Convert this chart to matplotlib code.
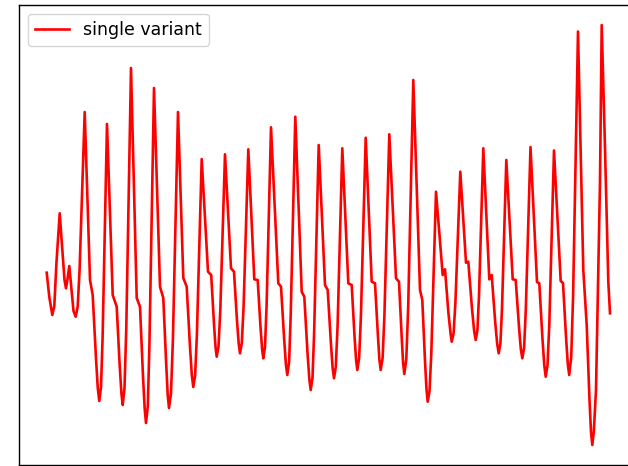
import matplotlib
matplotlib.use("Agg")
import matplotlib.pyplot as plt
import numpy as np

################################################################
##### data (arbitrary units)

# sample position along the trace
t = [
    46.7, 49.3, 52.3, 54.3, 56.5, 59.7, 62.3, 64.5, 66.0, 67.5, 69.3, 71.5, 73.5, 75.7, 77.7, 79.6,
    84.7, 90.0, 92.7, 96.0, 97.8, 99.3, 101.0, 102.6,
    107.0, 112.7, 116.7, 119.7, 121.4, 122.7, 124.5, 126.3,
    131.0, 136.7, 140.0, 143.0, 144.7, 146.0, 147.8, 149.4,
    154.0, 160.0, 163.3, 166.2, 167.7, 169.0, 171.0, 172.9,
    178.0, 183.3, 186.7, 190.0, 191.8, 193.3, 195.1, 196.9,
    201.7, 208.0, 211.2, 214.0, 215.5, 216.7, 218.5, 220.3,
    225.0, 231.0, 234.0, 237.0, 238.7, 240.0, 241.8, 243.6,
    248.3, 254.3, 257.7, 260.5, 262.1, 263.3, 265.0, 266.6,
    271.0, 278.3, 281.0, 284.2, 285.9, 287.3, 289.1, 290.7,
    295.3, 301.7, 304.3, 307.5, 309.3, 310.7, 312.5, 314.1,
    318.7, 325.0, 327.7, 330.9, 332.6, 334.0, 335.8, 337.6,
    342.3, 348.3, 351.7, 354.5, 356.1, 357.3, 359.1, 360.9,
    365.7, 371.7, 375.0, 377.9, 379.4, 380.7, 382.6, 384.4,
    389.3, 396.0, 399.0, 401.7, 403.1, 404.3, 406.3, 408.2,
    413.3, 420.0, 422.3, 425.0, 426.5, 427.7, 429.5, 431.3,
    436.0, 442.7, 445.0, 448.4, 450.5, 451.7, 453.6, 455.4,
    460.3, 466.0, 468.3, 472.0, 474.1, 475.7, 477.4, 479.0,
    483.3, 489.3, 491.7, 495.2, 497.2, 498.7, 500.4, 502.0,
    506.3, 512.7, 515.7, 519.0, 520.8, 522.3, 524.1, 525.8,
    530.5, 537.0, 539.3, 542.5, 544.3, 545.7, 547.5, 549.3,
    554.0, 560.7, 563.0, 566.1, 567.8, 569.2, 571.2, 573.1,
    578.0, 583.3, 586.7, 589.5, 591.0, 592.3, 593.8, 596.0, 600.0,
    601.7, 605.0, 608.3, 610.0,
]

# signal value at each sample
signal = [
    -0.7, -25.0, -43.0, -34.0, 10.0, 58.7, 22.0, -8.0, -16.3, -7.0, 6.0, -18.0, -39.0, -44.7, -34.5, 2.4,
    160.0, -8.0, -23.0, -86.6, -116.3, -129.0, -115.1, -65.3,
    148.0, -23.0, -34.7, -93.7, -121.2, -133.0, -116.2, -55.5,
    204.0, -26.0, -34.7, -104.5, -137.0, -151.0, -134.3, -73.9,
    184.0, -14.7, -26.0, -92.0, -122.8, -136.0, -121.2, -67.9,
    160.0, -6.0, -14.7, -74.9, -103.0, -115.0, -103.6, -62.6,
    113.0, 0.3, -3.0, -52.0, -74.9, -84.7, -74.6, -38.2,
    117.7, 3.7, 0.3, -48.7, -71.5, -81.3, -71.1, -34.4,
    122.7, -7.3, -8.0, -55.0, -76.9, -86.3, -74.8, -33.2,
    144.7, -11.3, -14.7, -67.7, -92.4, -103.0, -90.1, -43.6,
    155.3, -19.7, -24.7, -80.7, -106.8, -118.0, -105.8, -61.7,
    127.0, -13.0, -18.0, -71.0, -95.7, -106.3, -94.8, -53.4,
    123.7, -11.3, -13.0, -64.0, -87.8, -98.0, -86.4, -44.6,
    134.3, -9.7, -11.3, -63.3, -87.6, -98.0, -86.2, -43.8,
    137.7, -6.3, -9.7, -65.1, -90.9, -102.0, -87.3, -34.4,
    192.0, -18.0, -28.0, -89.0, -117.5, -129.7, -119.2, -81.4,
    80.3, -3.0, 2.7, -40.7, -61.0, -69.7, -61.2, -30.6,
    100.3, 9.3, 10.3, -36.7, -58.6, -68.0, -58.4, -23.9,
    123.7, -7.3, -3.0, -50.0, -71.9, -81.3, -71.6, -36.8,
    112.0, -7.3, -8.0, -55.0, -76.9, -86.3, -75.7, -37.7,
    125.0, -10.0, -11.3, -67.3, -93.5, -104.7, -93.4, -52.7,
    121.5, -9.0, -11.0, -66.2, -92.0, -103.0, -85.8, -24.0,
    240.5, 2.0, -53.0, -128.0, -160.0, -173.0, -160.0, -118.0, 90.3,
    247.0, 124.0, -9.7, -41.3,
]

LABEL = "single variant"

################################################################

# the reference looks like a 100 dpi plot scaled up by ~1.25
plt.rcParams["font.size"] = 12.5
plt.rcParams["axes.linewidth"] = 1.0


def main():
    fig = plt.figure(figsize=(6.28, 4.66), dpi=100)
    # the axes run a bit past the right edge of the canvas, as in the reference
    ax = fig.add_axes([19 / 628, 1 / 466, 613 / 628, 460 / 466])

    ax.plot(np.array(t), np.array(signal), color="red", lw=1.9, label=LABEL)

    ax.set_xlim(19, 632)
    ax.set_ylim(-193, 267)
    ax.set_xticks([])
    ax.set_yticks([])

    ax.legend(loc="upper left")

    fig.savefig("out.png", dpi=100)
    plt.close(fig)


if __name__ == "__main__":
    main()
